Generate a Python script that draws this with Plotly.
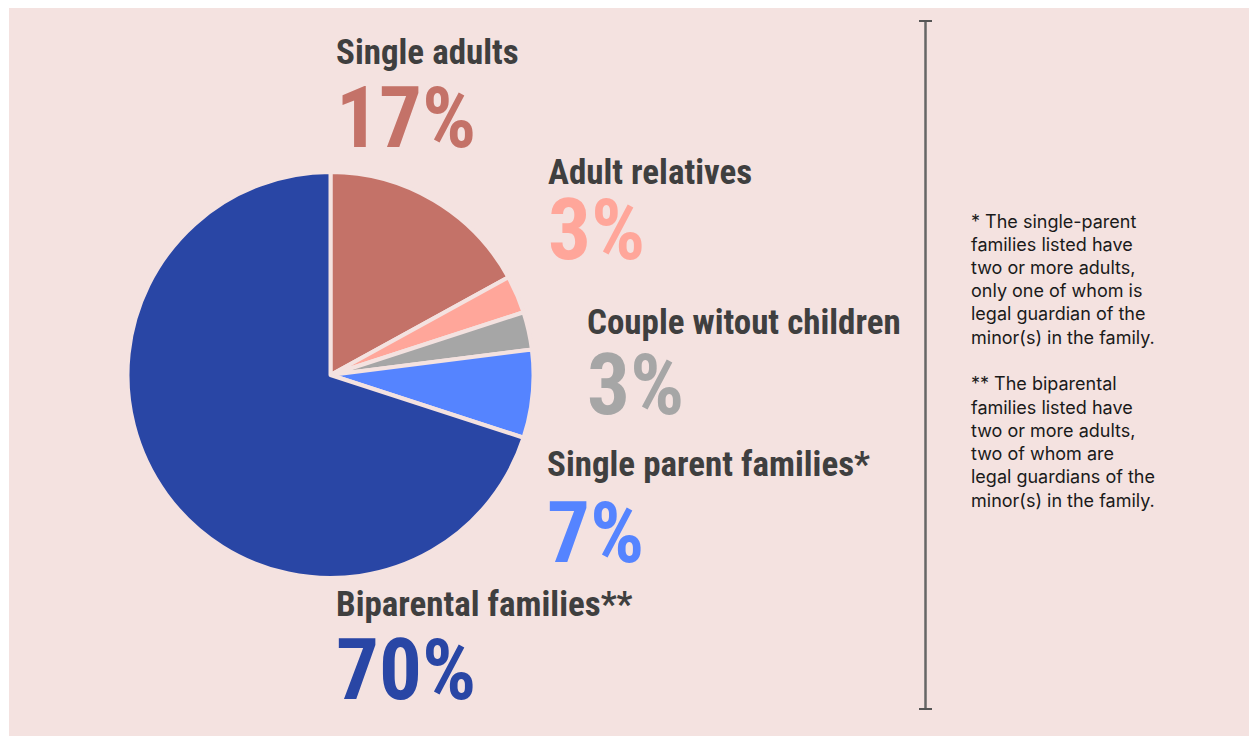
import plotly.graph_objects as go

W, H = 1249, 736

categories = ["Single adults", "Adult relatives", "Couple witout children",
              "Single parent families*", "Biparental families**"]
values = [17, 3, 3, 7, 70]
colors = ["#C47268", "#FFA69A", "#A6A6A6", "#5584FF", "#2946A5"]

footnote_lines = [
    "* The single-parent",
    "families listed have",
    "two or more adults,",
    "only one of whom is",
    "legal guardian of the",
    "minor(s) in the family.",
    "",
    "** The biparental",
    "families listed have",
    "two or more adults,",
    "two of whom are",
    "legal guardians of the",
    "minor(s) in the family.",
]

BG = "#F4E2E0"
COND = "Roboto Condensed, Liberation Sans Narrow, DejaVu Sans Condensed, Roboto, sans-serif"


def px(x):
    return x / W


def py(y):
    return 1 - y / H


cx, cy, r = 330.5, 375, 203

fig = go.Figure(go.Pie(
    labels=categories,
    values=values,
    sort=False,
    direction="clockwise",
    rotation=0,
    marker=dict(colors=colors, line=dict(color=BG, width=4)),
    textinfo="none",
    hoverinfo="skip",
    showlegend=False,
    domain=dict(x=[px(cx - r), px(cx + r)], y=[py(cy + r), py(cy - r)]),
))

shapes = [
    dict(type="rect", xref="paper", yref="paper", x0=px(9), x1=1, y0=0, y1=py(8),
         fillcolor=BG, line=dict(width=0), layer="below"),
    dict(type="line", xref="paper", yref="paper", x0=px(925.5), x1=px(925.5),
         y0=py(21), y1=py(709), line=dict(color="#666666", width=2.5)),
    dict(type="line", xref="paper", yref="paper", x0=px(919), x1=px(932),
         y0=py(21), y1=py(21), line=dict(color="#555555", width=2)),
    dict(type="line", xref="paper", yref="paper", x0=px(919), x1=px(932),
         y0=py(709), y1=py(709), line=dict(color="#555555", width=2)),
]

# label layout: (left x, name baseline y, gap between name and percent baselines)
label_pos = [
    (336, 65, 83),
    (548, 185, 75),
    (587, 335, 80),
    (547, 477, 86),
    (336, 617, 83),
]

annotations = []
for cat, val, col, (lx, base_y, gap) in zip(categories, values, colors, label_pos):
    txt = (f"<span style='font-size:35px;color:#3F3F3F'>{cat}</span><br>"
           f"<span style='font-size:85px;color:{col}'>{val}%</span>")
    annotations.append(dict(
        text=txt, x=px(lx), y=py(base_y - 33), xref="paper", yref="paper",
        xanchor="left", yanchor="top", align="left", showarrow=False,
        borderpad=0, borderwidth=0,
        font=dict(family=COND, size=gap / 1.3, color="#3F3F3F", weight="bold")))

for i, line in enumerate(footnote_lines):
    if not line:
        continue
    annotations.append(dict(
        text=line, x=px(969), y=py(221 + i * 23.25), xref="paper", yref="paper",
        xanchor="left", yanchor="middle", showarrow=False,
        font=dict(family="Inter, Roboto, sans-serif", size=18, color="#1A1A1A")))

fig.update_layout(
    width=W, height=H,
    margin=dict(l=0, r=0, t=0, b=0),
    paper_bgcolor="white",
    shapes=shapes,
    annotations=annotations,
)

fig.write_html("out.html")
